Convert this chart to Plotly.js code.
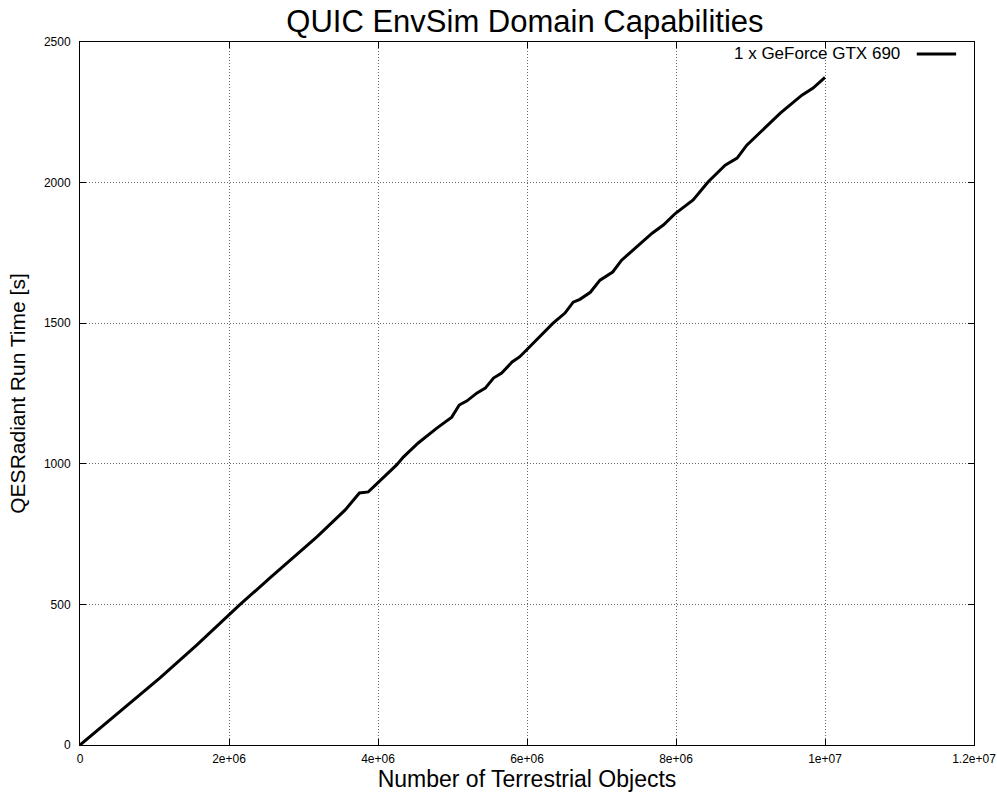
<!DOCTYPE html>
<html>
<head>
<meta charset="utf-8">
<script src="https://cdn.plot.ly/plotly-3.0.1.min.js"></script>
<style>
  html, body { margin: 0; padding: 0; background: #fff; }
  #chart { width: 997px; height: 797px; }
</style>
</head>
<body>
<div id="chart"></div>
<script>
// Number of terrestrial objects vs. QESRadiant run time on one GTX 690
const objects = [
  0, 0.45e6, 0.8e6, 1.07e6, 1.57e6, 1.99e6, 2.15e6, 2.55e6, 2.82e6, 3.18e6,
  3.56e6, 3.75e6, 3.87e6, 4.0e6, 4.25e6, 4.34e6, 4.54e6, 4.79e6, 4.99e6, 5.09e6,
  5.19e6, 5.33e6, 5.44e6, 5.55e6, 5.66e6, 5.8e6, 5.9e6, 6.02e6, 6.35e6, 6.51e6,
  6.62e6, 6.71e6, 6.85e6, 6.98e6, 7.15e6, 7.27e6, 7.68e6, 7.83e6, 7.99e6, 8.23e6,
  8.43e6, 8.66e6, 8.82e6, 8.95e6, 9.4e6, 9.69e6, 9.84e6, 10.0e6
];
const runTime = [
  0, 100, 178, 238, 356, 462, 500, 594, 658, 740,
  836, 896, 900, 932, 996, 1024, 1074, 1127, 1166, 1209,
  1223, 1252, 1269, 1305, 1323, 1362, 1380, 1412, 1500, 1536,
  1575, 1585, 1610, 1653, 1682, 1724, 1820, 1849, 1890, 1938,
  2002, 2062, 2087, 2133, 2247, 2311, 2336, 2374
];
const seriesName = '1 x GeForce GTX 690';

const xTickVals = [0, 2e6, 4e6, 6e6, 8e6, 1e7, 1.2e7];
const xTickText = ['0', '2e+06', '4e+06', '6e+06', '8e+06', '1e+07', '1.2e+07'];
const yTickVals = [0, 500, 1000, 1500, 2000, 2500];
const yTickText = ['0', '500', '1000', '1500', '2000', '2500'];

const FONT = 'Liberation Sans, Arial, Helvetica, sans-serif';

const trace = {
  x: objects,
  y: runTime,
  type: 'scatter',
  mode: 'lines',
  name: seriesName,
  line: { color: '#000', width: 3 },
  showlegend: false
};

const axisCommon = {
  showline: true,
  linecolor: '#000',
  linewidth: 1,
  mirror: 'ticks',
  ticks: 'inside',
  ticklen: 6,
  tickwidth: 1,
  tickcolor: '#000',
  showgrid: true,
  gridcolor: '#666',
  gridwidth: 1,
  griddash: '1px,2px',
  zeroline: false,
  tickfont: { family: FONT, size: 12, color: '#000' },
  tickmode: 'array'
};

const layout = {
  width: 997,
  height: 797,
  margin: { l: 80, r: 23, t: 42, b: 52 },
  paper_bgcolor: '#fff',
  plot_bgcolor: '#fff',
  font: { family: FONT, color: '#000' },
  title: {
    text: 'QUIC EnvSim Domain Capabilities',
    font: { family: FONT, size: 31, color: '#000' },
    x: 0.5265, xanchor: 'center',
    y: 0.974, yanchor: 'middle'
  },
  xaxis: Object.assign({}, axisCommon, {
    range: [0, 1.2e7],
    tickvals: xTickVals,
    ticktext: xTickText,
    ticklabelstandoff: 3,
    title: {
      text: 'Number of Terrestrial Objects',
      font: { family: FONT, size: 23, color: '#000' },
      standoff: 3
    }
  }),
  yaxis: Object.assign({}, axisCommon, {
    range: [0, 2500],
    tickvals: yTickVals,
    ticktext: yTickText,
    ticklabelstandoff: 6,
    title: {
      text: 'QESRadiant Run Time [s]',
      font: { family: FONT, size: 21, color: '#000' },
      standoff: 12
    }
  }),
  annotations: [{
    xref: 'paper', yref: 'paper',
    x: 0.920, y: 0.983,
    xanchor: 'right', yanchor: 'middle',
    text: seriesName,
    showarrow: false,
    font: { family: FONT, size: 17, color: '#000' }
  }],
  shapes: [{
    type: 'line', xref: 'paper', yref: 'paper',
    x0: 0.936, x1: 0.980, y0: 0.983, y1: 0.983,
    line: { color: '#000', width: 3 }
  }]
};

Plotly.newPlot('chart', [trace], layout, { displayModeBar: false, staticPlot: true });
</script>
</body>
</html>
